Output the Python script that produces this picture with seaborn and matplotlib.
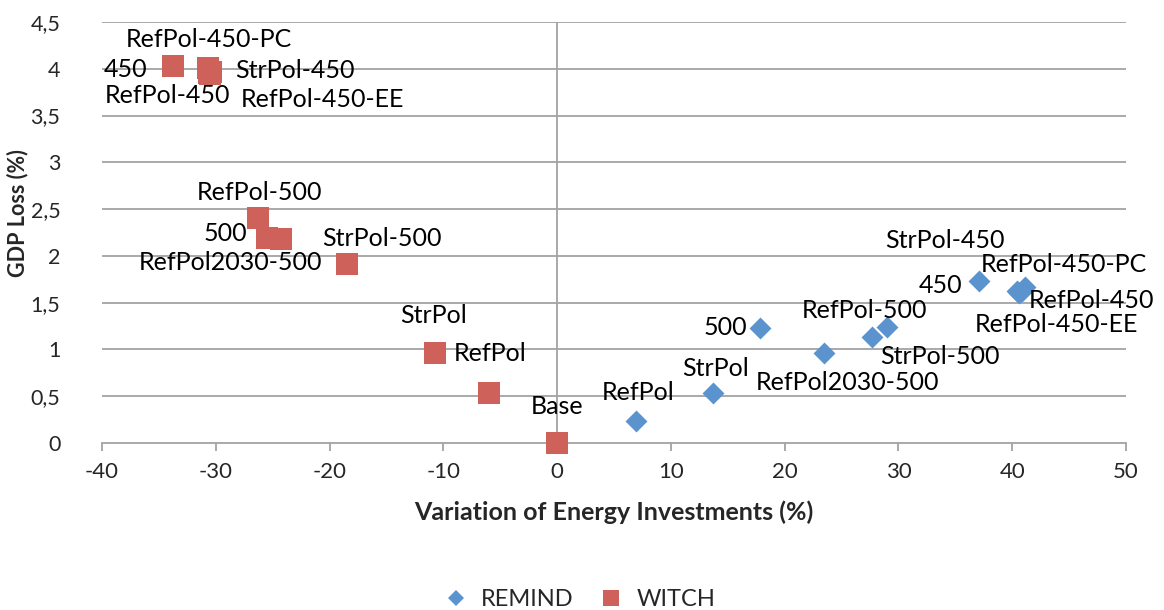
import pandas as pd
import numpy as np
import matplotlib.pyplot as plt
import seaborn as sns
from matplotlib.lines import Line2D

# scenario results
remind_scen = ['RefPol', 'StrPol', '500', 'RefPol2030-500', 'RefPol-500', 'StrPol-500',
               '450', 'StrPol-450', 'RefPol-450-PC', 'RefPol-450', 'RefPol-450-EE']
remind_inv = [6.9, 13.7, 17.8, 23.5, 27.7, 29.0, 37.1, 40.4, 41.1, 40.9, 40.6]
remind_gdp = [0.24, 0.53, 1.23, 0.96, 1.13, 1.24, 1.73, 1.63, 1.67, 1.62, 1.60]

witch_scen = ['Base', 'RefPol', 'StrPol', 'RefPol-500', '500', 'StrPol-500', 'RefPol2030-500',
              '450', 'RefPol-450-PC', 'StrPol-450', 'RefPol-450-EE', 'RefPol-450']
witch_inv = [0.0, -6.0, -10.75, -26.3, -25.5, -24.3, -18.5, -33.8, -30.7, -30.4, -30.5, -30.6]
witch_gdp = [0.0, 0.53, 0.96, 2.40, 2.19, 2.18, 1.91, 4.03, 4.01, 3.97, 3.94, 3.95]

y_ticks = [0, 0.5, 1, 1.5, 2, 2.5, 3, 3.5, 4, 4.5]
y_tick_labels = ['0', '0,5', '1', '1,5', '2', '2,5', '3', '3,5', '4', '4,5']
x_ticks = [-40, -30, -20, -10, 0, 10, 20, 30, 40, 50]

# label offsets in pixels (placement only)
remind_off = {'RefPol': (3, 28), 'StrPol': (3, 25), '500': (-34, 0),
              'RefPol2030-500': (23, -29), 'RefPol-500': (-8, 27), 'StrPol-500': (53, -30),
              '450': (-39, -4), 'StrPol-450': (-72, 50), 'RefPol-450-PC': (39, 22),
              'RefPol-450': (69, -9), 'RefPol-450-EE': (37, -31)}
witch_off = {'Base': (0, 36), 'RefPol': (1, 40), 'StrPol': (-1, 38), 'RefPol-500': (2, 26),
             '500': (-42, 5), 'StrPol-500': (101, 1), 'RefPol2030-500': (-116, 2),
             '450': (-47, -4), 'RefPol-450-PC': (1, 28), 'StrPol-450': (84, 1),
             'RefPol-450-EE': (112, -25), 'RefPol-450': (-41, -22)}

blue = '#5B93CE'
red = '#CF615B'
grid = '#A3A3A3'

df = pd.concat([
    pd.DataFrame({'model': 'REMIND', 'scen': remind_scen, 'inv': remind_inv, 'gdp': remind_gdp}),
    pd.DataFrame({'model': 'WITCH', 'scen': witch_scen, 'inv': witch_inv, 'gdp': witch_gdp}),
], ignore_index=True)

sns.set_theme(style='white')
plt.rcParams['font.family'] = ['Lato', 'DejaVu Sans']

fig, ax = plt.subplots(figsize=(11.64, 6.10), dpi=100)
fig.subplots_adjust(left=102/1164, right=1126/1164, top=1-22/610, bottom=1-443/610)

ax.set_xlim(-40, 50)
ax.set_ylim(0, 4.5)
for yv in y_ticks[1:]:
    ax.axhline(yv, color=grid, lw=1.3, zorder=0)
ax.axvline(0, color=grid, lw=1.3, zorder=0)

sns.scatterplot(data=df[df.model == 'WITCH'], x='inv', y='gdp', marker='s', s=245,
                color=red, linewidth=0, ax=ax, clip_on=False, zorder=3, legend=False)
sns.scatterplot(data=df[df.model == 'REMIND'], x='inv', y='gdp', marker='D', s=125,
                color=blue, linewidth=0, ax=ax, clip_on=False, zorder=3, legend=False)

for _, r in df.iterrows():
    off = (remind_off if r.model == 'REMIND' else witch_off)[r.scen]
    ax.annotate(r.scen, (r.inv, r.gdp), xytext=off, textcoords='offset pixels',
                ha='center', va='center', fontsize=18, color='black',
                annotation_clip=False, zorder=4)

for s in ['top', 'right', 'left']:
    ax.spines[s].set_visible(False)
ax.spines['bottom'].set_color(grid)
ax.spines['bottom'].set_linewidth(1.3)
ax.spines['bottom'].set_zorder(0)

ax.set_xticks(x_ticks)
ax.set_xticklabels([str(v) for v in x_ticks])
ax.set_yticks(y_ticks)
ax.set_yticklabels(y_tick_labels)
ax.tick_params(axis='x', bottom=True, direction='out', length=6, width=1.3, color=grid,
               labelsize=16, pad=8)
ax.tick_params(axis='y', left=False, labelsize=15.5, pad=24)
ax.grid(False)

ax.set_xlabel('Variation of Energy Investments (%)', fontsize=18, fontweight='bold', labelpad=13)
ax.set_ylabel('GDP Loss (%)', fontsize=15.5, fontweight='bold')
ax.yaxis.set_label_coords(-0.072, 0.545)

handles = [Line2D([], [], marker='D', color=blue, ls='', ms=8.5, mew=0, label='REMIND'),
           Line2D([], [], marker='s', color=red, ls='', ms=11.5, mew=0, label='WITCH')]
fig.legend(handles=handles, loc='center', bbox_to_anchor=(0.493, 0.017), ncol=2,
           frameon=False, fontsize=17, handletextpad=0.05, columnspacing=0.6, borderaxespad=0)

fig.savefig('out.png', dpi=100)
